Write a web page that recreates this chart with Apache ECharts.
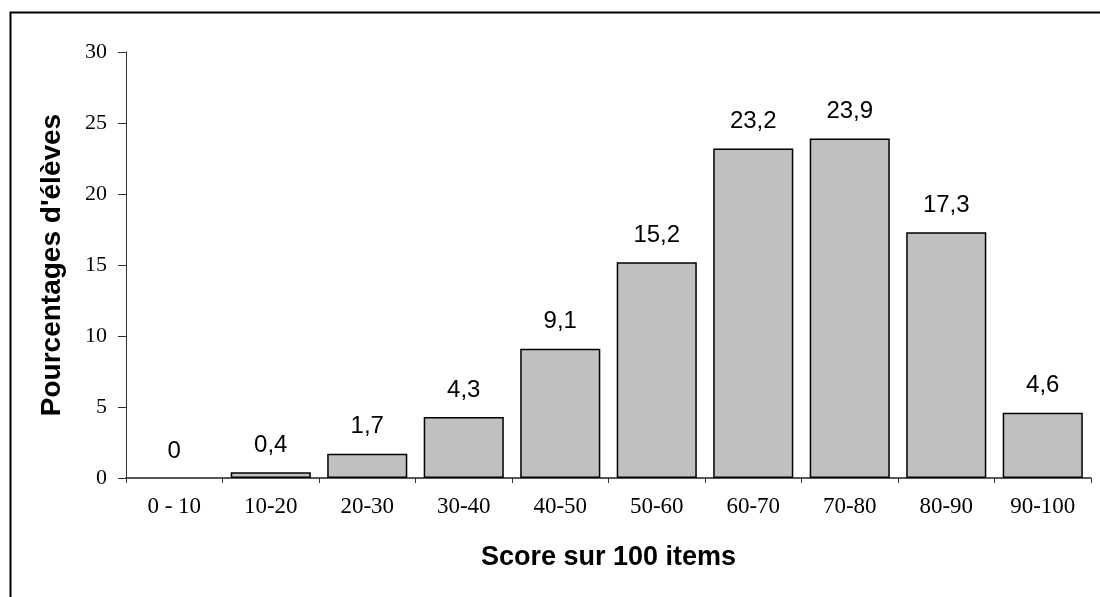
<!DOCTYPE html>
<html><head><meta charset="utf-8">
<script src="https://cdn.jsdelivr.net/npm/echarts@6/dist/echarts.min.js"></script>
<style>html,body{margin:0;padding:0;background:#fff}#c{width:1100px;height:597px}</style>
</head><body><div id="c"></div>
<script>
const categories = ['0 - 10','10-20','20-30','30-40','40-50','50-60','60-70','70-80','80-90','90-100'];
const values = [0, 0.4, 1.7, 4.3, 9.1, 15.2, 23.2, 23.9, 17.3, 4.6];
const yTicks = {min: 0, max: 30, interval: 5};

const chart = echarts.init(document.getElementById('c'), null, {renderer: 'canvas'});
chart.setOption({
  animation: false,
  backgroundColor: '#fff',
  graphic: [{
    type: 'rect', left: 8, top: 10, silent: true,
    shape: {x: 0, y: 0, width: 1200, height: 700},
    style: {fill: 'none', stroke: '#000', lineWidth: 2}
  }],
  grid: {left: 126, right: 9, top: 52, bottom: 119, containLabel: false},
  xAxis: {
    type: 'category', data: categories,
    name: 'Score sur 100 items', nameLocation: 'middle', nameGap: 66,
    nameTextStyle: {fontFamily: 'Liberation Sans', fontWeight: 'bold', fontSize: 27, color: '#000'},
    axisLine: {lineStyle: {color: '#222', width: 1.5}},
    axisTick: {show: true, alignWithLabel: false, length: 5, lineStyle: {color: '#333'}},
    axisLabel: {fontFamily: 'Liberation Serif', fontSize: 23, color: '#000', margin: 17, interval: 0}
  },
  yAxis: {
    type: 'value', min: yTicks.min, max: yTicks.max, interval: yTicks.interval,
    name: "Pourcentages d'élèves", nameLocation: 'middle', nameGap: 60,
    nameTextStyle: {fontFamily: 'Liberation Sans', fontWeight: 'bold', fontSize: 28, color: '#000'},
    axisLine: {show: true, lineStyle: {color: '#333', width: 1}},
    axisTick: {show: true, length: 8, lineStyle: {color: '#333'}},
    splitLine: {show: false},
    axisLabel: {fontFamily: 'Liberation Serif', fontSize: 22, color: '#000', margin: 19}
  },
  series: [{
    type: 'bar',
    data: values.map(v => v === 0 ? {value: v, itemStyle: {borderWidth: 0}} : v),
    barCategoryGap: '17%',
    itemStyle: {color: '#C0C0C0', borderColor: '#000', borderWidth: 1.5},
    label: {
      show: true, position: 'top', distance: 15,
      fontFamily: 'Liberation Sans', fontSize: 24, color: '#000',
      formatter: p => String(p.value).replace('.', ',')
    }
  }]
});
</script></body></html>
